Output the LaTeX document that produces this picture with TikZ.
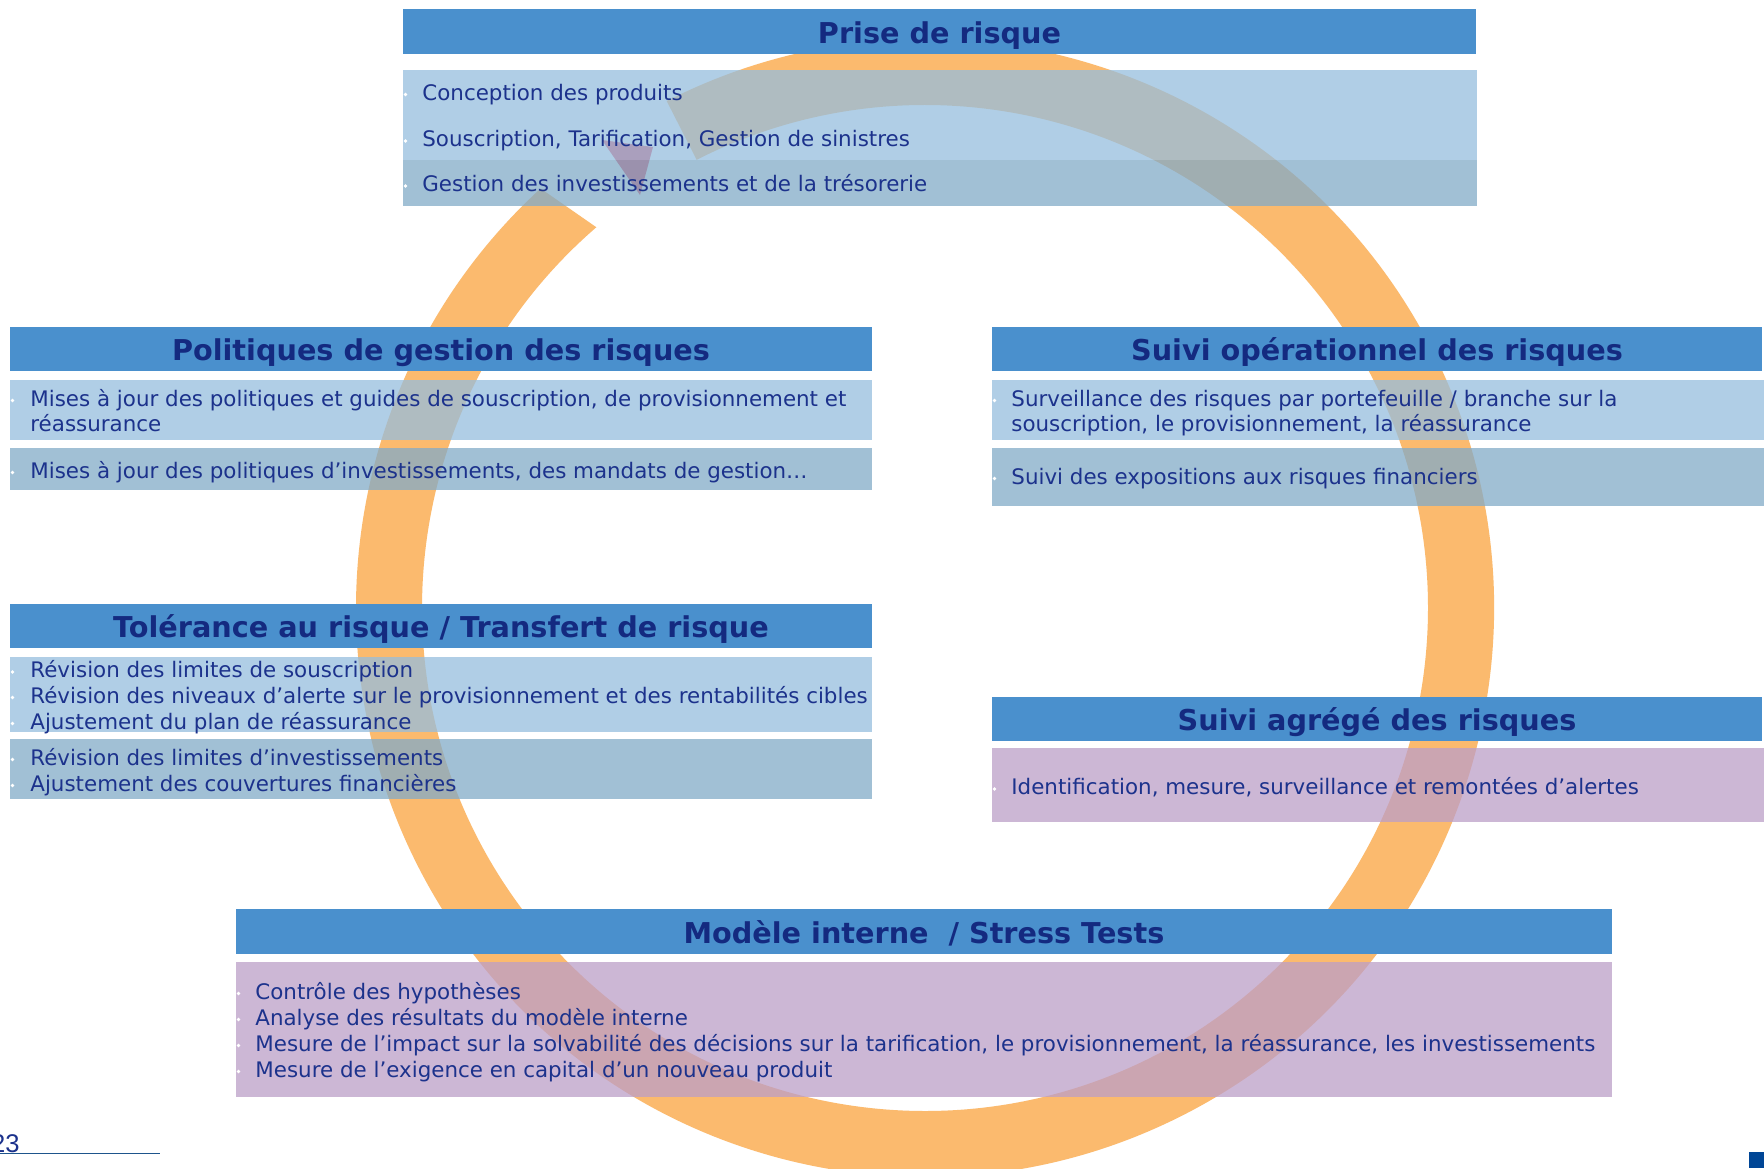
\documentclass[tikz,border=0pt]{standalone}
\usepackage{fontspec}
\setmainfont{DejaVu Sans}
\newfontfamily\footfont{Liberation Sans}
\usetikzlibrary{calc}
\definecolor{hdrblue}{RGB}{74,144,205}
\definecolor{boxlight}{RGB}{150,190,222}
\definecolor{boxdark}{RGB}{130,171,200}
\definecolor{boxpurple}{RGB}{188,159,200}
\definecolor{ringorange}{RGB}{251,186,110}
\definecolor{navy}{RGB}{28,50,140}
\definecolor{hdrnavy}{RGB}{20,42,128}
\definecolor{tipred}{RGB}{230,70,94}
\definecolor{footblue}{RGB}{30,85,140}
\definecolor{cornerblue}{RGB}{0,70,150}
\tikzset{
  hdr/.style={fill=hdrblue, inner sep=0pt},
  hdrtxt/.style={anchor=base, inner sep=0pt, text=hdrnavy,
    font=\fontsize{14.35pt}{16pt}\selectfont\bfseries},
  cbox/.style={fill opacity=0.75, inner sep=0pt},
  itm/.style={anchor=west, inner sep=0pt, text height=0.8em, text depth=0.1em,
    text=navy, font=\fontsize{10.7pt}{12.95pt}\selectfont},
  bul/.style={fill=white, circle, inner sep=0pt, minimum size=1.8pt},
}
\newcommand\itemline[4]{\node[itm] (#1) at (#2,#3) {#4};}
\newcommand\bulat[3]{\node[bul] (#1) at (#2,#3+1.5) {};}
\begin{document}
\begin{tikzpicture}[x=0.5pt,y=-0.5pt]
\useasboundingbox (0,0) rectangle (1764,1168);
\clip (0,0) rectangle (1764,1168);
\fill[white] (0,0) rectangle (1764,1168);
% ring arrow
\coordinate (ctr) at (925,608);
\fill[ringorange] (ctr) ++(-117:569) arc[start angle=-117, end angle=227.5, radius=569]
  -- ($(ctr)+(229.2:503)$) arc[start angle=229.2, end angle=-117, radius=503] -- cycle;
\fill[tipred] (602,140) -- (653,147) -- (640,195) -- cycle;
% boxes
\node[hdr, minimum width=536.5pt, minimum height=22.5pt] (h1) at (939.5,31.5) {};
\node[hdrtxt] (h1t) at (939.5,43) {Prise de risque};
\node[cbox, fill=boxlight, minimum width=537pt, minimum height=45pt] (c1a) at (940,115) {};
\node[cbox, fill=boxdark, minimum width=537pt, minimum height=23pt] (c1b) at (940,183) {};

\node[hdr, minimum width=431pt, minimum height=22pt] (h2) at (441,349) {};
\node[hdrtxt] (h2t) at (441,360.5) {Politiques de gestion des risques};
\node[cbox, fill=boxlight, minimum width=431pt, minimum height=30pt] (c2a) at (441,410) {};
\node[cbox, fill=boxdark, minimum width=431pt, minimum height=21pt] (c2b) at (441,469) {};

\node[hdr, minimum width=385pt, minimum height=22pt] (h3) at (1377,349) {};
\node[hdrtxt] (h3t) at (1377,360.5) {Suivi opérationnel des risques};
\node[cbox, fill=boxlight, minimum width=386pt, minimum height=30pt] (c3a) at (1378,410) {};
\node[cbox, fill=boxdark, minimum width=386pt, minimum height=29pt] (c3b) at (1378,477) {};

\node[hdr, minimum width=431pt, minimum height=22pt] (h4) at (441,626) {};
\node[hdrtxt] (h4t) at (441,637.5) {Tolérance au risque / Transfert de risque};
\node[cbox, fill=boxlight, minimum width=431pt, minimum height=37.5pt] (c4a) at (441,694.5) {};
\node[cbox, fill=boxdark, minimum width=431pt, minimum height=30pt] (c4b) at (441,769) {};

\node[hdr, minimum width=385pt, minimum height=22pt] (h5) at (1377,719) {};
\node[hdrtxt] (h5t) at (1377,730.5) {Suivi agrégé des risques};
\node[cbox, fill=boxpurple, minimum width=386pt, minimum height=37pt] (c5) at (1378,785) {};

\node[hdr, minimum width=688pt, minimum height=22.5pt] (h6) at (924,931.5) {};
\node[hdrtxt] (h6t) at (924,943) {Modèle interne \ / Stress Tests};
\node[cbox, fill=boxpurple, minimum width=688pt, minimum height=67.5pt] (c6) at (924,1029.5) {};
% texts
\bulat{b11}{405.5}{93}\itemline{t11}{422}{93}{Conception des produits}
\bulat{b12}{405.5}{139.5}\itemline{t12}{422}{139.5}{Souscription, Tarification, Gestion de sinistres}
\bulat{b13}{405.5}{184.5}\itemline{t13}{422}{184.5}{Gestion des investissements et de la trésorerie}

\bulat{b21}{12.5}{399}\itemline{t21}{30}{399}{Mises à jour des politiques et guides de souscription, de provisionnement et}
\itemline{t22}{30}{424}{réassurance}
\bulat{b23}{12.5}{471}\itemline{t23}{30}{471}{Mises à jour des politiques d’investissements, des mandats de gestion…}

\bulat{b31}{994.5}{399}\itemline{t31}{1011}{399}{Surveillance des risques par portefeuille / branche sur la}
\itemline{t32}{1011}{424}{souscription, le provisionnement, la réassurance}
\bulat{b33}{994.5}{477}\itemline{t33}{1011}{477}{Suivi des expositions aux risques financiers}

\bulat{b41}{12.5}{670.5}\itemline{t41}{30}{670.5}{Révision des limites de souscription}
\bulat{b42}{12.5}{696}\itemline{t42}{30}{696}{Révision des niveaux d’alerte sur le provisionnement et des rentabilités cibles}
\bulat{b43}{12.5}{722}\itemline{t43}{30}{722}{Ajustement du plan de réassurance}
\bulat{b44}{12.5}{758}\itemline{t44}{30}{758}{Révision des limites d’investissements}
\bulat{b45}{12.5}{784}\itemline{t45}{30}{784}{Ajustement des couvertures financières}

\bulat{b51}{994.5}{787.5}\itemline{t51}{1011}{787.5}{Identification, mesure, surveillance et remontées d’alertes}

\bulat{b61}{238.5}{992}\itemline{t61}{255}{992}{Contrôle des hypothèses}
\bulat{b62}{238.5}{1018}\itemline{t62}{255}{1018}{Analyse des résultats du modèle interne}
\bulat{b63}{238.5}{1044}\itemline{t63}{255}{1044}{Mesure de l’impact sur la solvabilité des décisions sur la tarification, le provisionnement, la réassurance, les investissements}
\bulat{b64}{238.5}{1070}\itemline{t64}{255}{1070}{Mesure de l’exigence en capital d’un nouveau produit}
% footer
\node[anchor=base east, inner sep=0pt, text=navy, font=\footfont\fontsize{12.8pt}{14pt}\selectfont] (pg) at (20,1152) {23};
\coordinate (ulA) at (0,1153.5);
\coordinate (ulB) at (160,1153.5);
\draw[footblue, line width=0.7pt] (ulA) -- (ulB);
\fill[cornerblue] (1749,1152) rectangle (1764,1168);
\end{tikzpicture}
\end{document}
